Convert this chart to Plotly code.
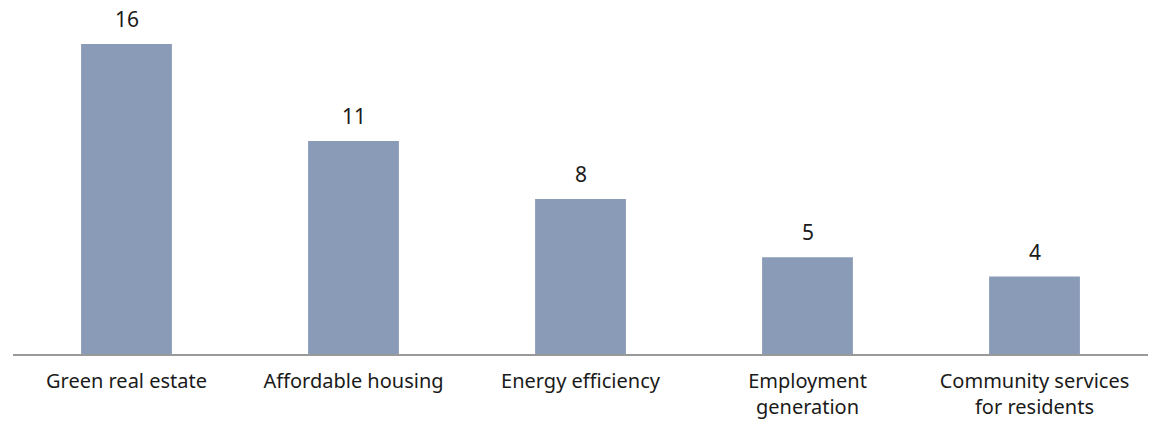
import plotly.graph_objects as go

categories = ["Green real estate", "Affordable housing", "Energy efficiency",
              "Employment<br>generation", "Community services<br>for residents"]
values = [16, 11, 8, 5, 4]

bar_color = "#8a9bb7"
font_family = "Noto Sans"
text_color = "#1a1a1a"

fig = go.Figure(go.Bar(x=categories, y=values, marker=dict(color=bar_color, line=dict(width=0)),
                       hoverinfo="skip"))

for c, v in zip(categories, values):
    fig.add_annotation(x=c, y=v, text=str(v), showarrow=False, yanchor="bottom",
                       yshift=9, font=dict(size=21, color=text_color, family=font_family))

fig.update_layout(
    width=1153, height=421,
    margin=dict(l=13, r=5, t=10, b=67),
    paper_bgcolor="white", plot_bgcolor="white",
    bargap=0.6, showlegend=False,
    font=dict(family=font_family, size=20, color=text_color),
)
fig.update_xaxes(showline=True, linecolor="#999999", linewidth=1.5, ticks="",
                 showgrid=False, tickfont=dict(size=20, color=text_color),
                 ticklabelstandoff=8, automargin=False)
fig.update_yaxes(visible=False, range=[0, 344 / 19.375], showgrid=False, zeroline=False,
                 automargin=False)

fig.write_html("out.html", config={"displayModeBar": False},
               post_script="document.body.style.margin='0';document.body.style.padding='0';")
